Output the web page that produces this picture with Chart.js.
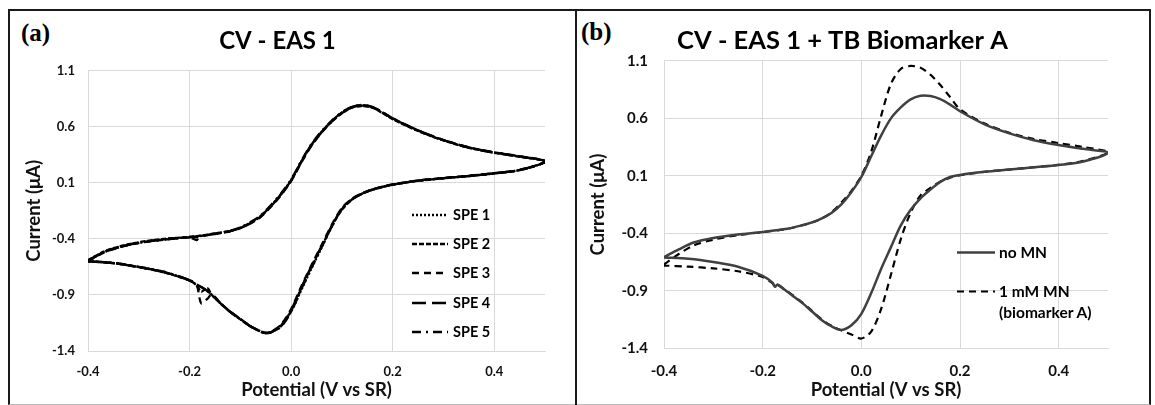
<!DOCTYPE html>
<html>
<head>
<meta charset="utf-8">
<script src="https://cdn.jsdelivr.net/npm/chart.js@4"></script>
<style>
  html, body { margin:0; padding:0; background:#fff; }
  body { width:1155px; height:405px; position:relative; overflow:hidden; font-family:Lato, sans-serif; }
  .frame { position:absolute; left:8px; top:9px; width:1143px; height:396px; border:2px solid #1a1a1a; border-bottom:1px solid #bbb; box-sizing:border-box; }
  .divider { position:absolute; left:575px; top:9px; width:2px; height:396px; background:#1a1a1a; }
  canvas { position:absolute; }
  .plabel { position:absolute; font-family:"Liberation Serif", serif; font-weight:bold; font-size:25px; color:#000; line-height:25px; }
  .legend { position:absolute; font-family:Lato, sans-serif; font-weight:bold; color:#000; }
  .legend .row { position:absolute; display:flex; align-items:center; white-space:nowrap; }
  .legend svg { display:block; }
</style>
</head>
<body>
<div class="frame"></div>
<div class="divider"></div>
<div class="plabel" style="left:21px; top:20px;">(a)</div>
<div class="plabel" style="left:581px; top:19px;">(b)</div>
<canvas id="chartA" width="565" height="392" style="left:10px; top:11px; width:565px; height:392px;"></canvas>
<canvas id="chartB" width="572" height="392" style="left:577px; top:11px; width:572px; height:392px;"></canvas>
<div id="legendA" class="legend"></div>
<div id="legendB" class="legend"></div>
<script>
// ---------------- Data: panel (a) ----------------
const titleA = 'CV - EAS 1';
const titleB = 'CV - EAS 1 + TB Biomarker A';
const xAxisTitle = 'Potential (V vs SR)';
const yAxisTitle = 'Current (\u03bcA)';
const xTickValues = [-0.4, -0.2, 0.0, 0.2, 0.4];
const yTickValues = [1.1, 0.6, 0.1, -0.4, -0.9, -1.4];

// potential scan (forward -0.4 -> 0.5, then reverse 0.5 -> -0.4)
const scanA = [
  -0.4, -0.37, -0.34, -0.3, -0.25, -0.2, -0.186, -0.18, -0.15, -0.12, -0.1, -0.08, -0.06, -0.04, -0.02, 0,
  0.02, 0.04, 0.06, 0.08, 0.1, 0.12, 0.14, 0.16, 0.18, 0.2, 0.25, 0.3, 0.35, 0.4, 0.45, 0.5,
  0.45, 0.4, 0.35, 0.3, 0.25, 0.2, 0.18, 0.16, 0.14, 0.12, 0.1, 0.08, 0.06, 0.04, 0.02, 0,
  -0.02, -0.04, -0.05, -0.06, -0.08, -0.1, -0.12, -0.14, -0.156, -0.165, -0.177, -0.186, -0.2, -0.25, -0.3, -0.35, -0.4
];
const labelsA = ['SPE 1', 'SPE 2', 'SPE 3', 'SPE 4', 'SPE 5'];
const spe1 = [
  -0.595, -0.52, -0.475, -0.435, -0.405, -0.385, -0.38, -0.375, -0.355, -0.33, -0.3, -0.255, -0.195, -0.105, 0.0, 0.125,
  0.29, 0.44, 0.555, 0.65, 0.725, 0.775, 0.79, 0.772, 0.725, 0.672, 0.565, 0.48, 0.415, 0.37, 0.335, 0.29,
  0.215, 0.185, 0.162, 0.142, 0.12, 0.085, 0.065, 0.04, 0.005, -0.045, -0.13, -0.29, -0.48, -0.665, -0.855, -1.05,
  -1.17, -1.23, -1.238, -1.225, -1.18, -1.115, -1.05, -0.97, -0.9, -0.865, -0.83, -0.81, -0.77, -0.695, -0.65, -0.615, -0.6
];
const spe2 = [
  -0.59, -0.515, -0.47, -0.43, -0.4, -0.382, -0.376, -0.372, -0.352, -0.328, -0.302, -0.26, -0.2, -0.11, -0.005, 0.12,
  0.285, 0.435, 0.55, 0.645, 0.72, 0.77, 0.785, 0.77, 0.722, 0.668, 0.562, 0.478, 0.412, 0.368, 0.332, 0.29,
  0.213, 0.183, 0.16, 0.14, 0.118, 0.083, 0.063, 0.038, 0.003, -0.05, -0.14, -0.29, -0.47, -0.65, -0.84, -1.04,
  -1.18, -1.235, -1.24, -1.228, -1.182, -1.118, -1.052, -0.972, -0.9, -0.84, -0.87, -0.815, -0.77, -0.7, -0.652, -0.617, -0.6
];
const spe3 = [
  -0.6, -0.525, -0.478, -0.437, -0.407, -0.387, -0.41, -0.378, -0.357, -0.332, -0.305, -0.262, -0.205, -0.115, -0.01, 0.115,
  0.28, 0.43, 0.548, 0.645, 0.722, 0.772, 0.788, 0.775, 0.728, 0.675, 0.568, 0.482, 0.417, 0.372, 0.337, 0.292,
  0.216, 0.186, 0.163, 0.143, 0.121, 0.086, 0.066, 0.041, 0.006, -0.042, -0.125, -0.275, -0.455, -0.635, -0.825, -1.025,
  -1.165, -1.228, -1.236, -1.222, -1.178, -1.112, -1.048, -0.968, -0.895, -0.935, -0.975, -0.815, -0.772, -0.698, -0.652, -0.616, -0.6
];
const spe4 = [
  -0.597, -0.522, -0.476, -0.436, -0.406, -0.386, -0.381, -0.376, -0.356, -0.331, -0.302, -0.258, -0.198, -0.108, -0.003, 0.122,
  0.288, 0.438, 0.553, 0.65, 0.728, 0.778, 0.795, 0.778, 0.73, 0.676, 0.568, 0.482, 0.416, 0.371, 0.336, 0.29,
  0.214, 0.184, 0.161, 0.141, 0.119, 0.084, 0.064, 0.039, 0.004, -0.047, -0.135, -0.285, -0.465, -0.645, -0.835, -1.035,
  -1.175, -1.232, -1.24, -1.226, -1.18, -1.116, -1.05, -0.97, -0.9, -0.865, -0.83, -0.81, -0.77, -0.697, -0.651, -0.616, -0.6
];
const spe5 = [
  -0.593, -0.518, -0.472, -0.433, -0.403, -0.383, -0.378, -0.373, -0.353, -0.328, -0.298, -0.25, -0.19, -0.1, 0.005, 0.13,
  0.295, 0.445, 0.56, 0.655, 0.73, 0.778, 0.792, 0.775, 0.727, 0.673, 0.566, 0.48, 0.414, 0.369, 0.334, 0.29,
  0.214, 0.184, 0.161, 0.141, 0.119, 0.084, 0.064, 0.039, 0.004, -0.047, -0.135, -0.29, -0.475, -0.66, -0.85, -1.05,
  -1.185, -1.235, -1.24, -1.225, -1.18, -1.115, -1.05, -0.97, -0.9, -0.865, -0.83, -0.805, -0.767, -0.693, -0.649, -0.614, -0.6
];

// ---------------- Data: panel (b) ----------------
const scanB = [
  -0.4, -0.37, -0.34, -0.3, -0.25, -0.2, -0.15, -0.12, -0.1, -0.08, -0.06, -0.04, -0.02, 0,
  0.02, 0.04, 0.06, 0.08, 0.1, 0.12, 0.14, 0.16, 0.18, 0.2, 0.25, 0.3, 0.35, 0.4, 0.45, 0.5,
  0.45, 0.4, 0.35, 0.3, 0.25, 0.2, 0.18, 0.16, 0.14, 0.12, 0.1, 0.08, 0.06, 0.04, 0.02, 0,
  -0.02, -0.04, -0.06, -0.08, -0.1, -0.12, -0.14, -0.16, -0.17, -0.175, -0.18, -0.2, -0.25, -0.3, -0.35, -0.4
];
const labelsB = ['no MN', '1 mM MN\n(biomarker A)'];
const noMN = [
  -0.607, -0.54, -0.48, -0.44, -0.41, -0.388, -0.36, -0.33, -0.305, -0.27, -0.22, -0.145, -0.04, 0.09,
  0.27, 0.45, 0.6, 0.695, 0.765, 0.797, 0.795, 0.768, 0.72, 0.662, 0.548, 0.47, 0.41, 0.368, 0.335, 0.3,
  0.225, 0.195, 0.175, 0.155, 0.135, 0.108, 0.09, 0.048, -0.02, -0.095, -0.195, -0.33, -0.52, -0.71, -0.92, -1.1,
  -1.2, -1.24, -1.21, -1.155, -1.08, -1.005, -0.94, -0.875, -0.845, -0.865, -0.83, -0.77, -0.69, -0.65, -0.622, -0.61
];
const withMN = [
  -0.67, -0.58, -0.505, -0.455, -0.415, -0.39, -0.36, -0.33, -0.305, -0.27, -0.215, -0.13, -0.03, 0.1,
  0.31, 0.62, 0.9, 1.03, 1.056, 1.04, 0.98, 0.89, 0.785, 0.68, 0.555, 0.475, 0.42, 0.385, 0.35, 0.305,
  0.23, 0.195, 0.175, 0.155, 0.135, 0.105, 0.085, 0.05, -0.005, -0.07, -0.22, -0.45, -0.76, -1.06, -1.255, -1.315,
  -1.28, -1.245, -1.205, -1.15, -1.075, -1.0, -0.935, -0.875, -0.85, -0.86, -0.835, -0.78, -0.73, -0.705, -0.69, -0.68
];

// ---------------- helpers ----------------
const toPoints = (xs, ys) => xs.map((x, i) => ({ x: x, y: ys[i] }));
const FONT = 'Lato, "Open Sans", sans-serif';

function makeOptions(cfg) {
  return {
    responsive: false,
    animation: false,
    events: [],
    layout: { autoPadding: false, padding: { left: 0, right: cfg.padRight, top: 0, bottom: 0 } },
    plugins: {
      legend: { display: false },
      tooltip: { enabled: false },
      title: {
        display: true, text: cfg.title, color: '#000',
        font: { family: FONT, size: cfg.titleSize, weight: 'bold', lineHeight: 1.2 },
        padding: { top: cfg.titleTop, bottom: cfg.titleBottom }
      }
    },
    scales: {
      x: {
        type: 'linear', min: -0.4, max: 0.5,
        afterBuildTicks: s => { s.ticks = xTickValues.map(v => ({ value: v })); },
        afterFit: s => { s.height = cfg.xHeight; },
        grid: { color: '#d9d9d9', lineWidth: 1, drawTicks: false },
        border: { color: '#d9d9d9' },
        ticks: {
          autoSkip: false, maxRotation: 0, padding: cfg.xTickPad, color: '#111',
          font: { family: FONT, size: cfg.tickSize, weight: 'bold' },
          callback: v => Number(v).toFixed(1)
        },
        title: {
          display: true, text: xAxisTitle, color: '#111',
          font: { family: FONT, size: cfg.axisTitleSize, weight: 'bold' },
          padding: { top: 0, bottom: cfg.xTitlePad }
        }
      },
      y: {
        type: 'linear', min: -1.4, max: 1.1,
        afterBuildTicks: s => { s.ticks = yTickValues.map(v => ({ value: v })); },
        afterFit: s => { s.width = cfg.yWidth; },
        grid: { color: '#d9d9d9', lineWidth: 1, drawTicks: false },
        border: { color: '#d9d9d9' },
        ticks: {
          autoSkip: false, padding: cfg.yTickPad, color: '#111',
          font: { family: FONT, size: cfg.tickSize, weight: 'bold' },
          callback: v => Number(v).toFixed(1)
        },
        title: {
          display: true, text: yAxisTitle, color: '#111',
          font: { family: FONT, size: cfg.axisTitleSize, weight: 'bold' },
          padding: { top: cfg.yTitlePad, bottom: 0 }
        }
      }
    }
  };
}

const dashesA = [[2, 2], [5, 2], [7, 5], [14, 6], [9, 5, 2, 5]];
const seriesA = [spe1, spe2, spe3, spe4, spe5];

const chartA = new Chart(document.getElementById('chartA'), {
  type: 'scatter',
  data: {
    datasets: seriesA.map((ys, i) => ({
      label: labelsA[i],
      data: toPoints(scanA, ys),
      showLine: true, pointRadius: 0, borderWidth: 2.3,
      borderColor: '#000', borderDash: dashesA[i], tension: 0.3, fill: false
    }))
  },
  options: makeOptions({
    title: titleA, titleSize: 24, padRight: 30, titleTop: 15.6, titleBottom: 15.3,
    xHeight: 52, xTickPad: 13, xTitlePad: 2, yWidth: 78, yTickPad: 13, yTitlePad: 13,
    tickSize: 13, axisTitleSize: 18.5
  })
});

const chartB = new Chart(document.getElementById('chartB'), {
  type: 'scatter',
  data: {
    datasets: [
      { label: labelsB[0], data: toPoints(scanB, noMN), showLine: true, pointRadius: 0, borderWidth: 2.5,
        borderColor: '#404040', borderDash: [], tension: 0.3, fill: false },
      { label: labelsB[1], data: toPoints(scanB, withMN), showLine: true, pointRadius: 0, borderWidth: 2.2,
        borderColor: '#000', borderDash: [7, 5], tension: 0.3, fill: false }
    ]
  },
  options: makeOptions({
    title: titleB, titleSize: 25.5, padRight: 41, titleTop: 14.7, titleBottom: 4.6,
    xHeight: 54.7, xTickPad: 14, xTitlePad: 2, yWidth: 87, yTickPad: 16, yTitlePad: 9.5,
    tickSize: 15, axisTitleSize: 18.5
  })
});

// ---------------- HTML legends built from the datasets ----------------
function buildLegend(chart, el, cfg) {
  el.innerHTML = '';
  chart.data.datasets.forEach((ds, i) => {
    const row = document.createElement('div');
    row.className = 'row';
    row.style.left = cfg.x + 'px';
    row.style.top = (cfg.rows[i] - cfg.lineH / 2) + 'px';
    row.style.fontSize = cfg.size + 'px';
    row.style.lineHeight = cfg.lineH + 'px';
    row.style.alignItems = 'flex-start';
    const svgNS = 'http://www.w3.org/2000/svg';
    const svg = document.createElementNS(svgNS, 'svg');
    svg.setAttribute('width', cfg.sample);
    svg.setAttribute('height', cfg.lineH);
    const ln = document.createElementNS(svgNS, 'line');
    ln.setAttribute('x1', 0); ln.setAttribute('x2', cfg.sample);
    ln.setAttribute('y1', cfg.lineH / 2); ln.setAttribute('y2', cfg.lineH / 2);
    ln.setAttribute('stroke', ds.borderColor);
    ln.setAttribute('stroke-width', ds.borderWidth);
    if (ds.borderDash && ds.borderDash.length) ln.setAttribute('stroke-dasharray', ds.borderDash.join(' '));
    svg.appendChild(ln);
    const txt = document.createElement('span');
    txt.style.whiteSpace = 'pre';
    txt.style.marginLeft = cfg.gap + 'px';
    txt.textContent = ds.label;
    row.appendChild(svg);
    row.appendChild(txt);
    el.appendChild(row);
  });
}
buildLegend(chartA, document.getElementById('legendA'),
  { x: 412, rows: [215, 244, 273, 303, 332], sample: 36, gap: 5, size: 14.5, lineH: 18 });
buildLegend(chartB, document.getElementById('legendB'),
  { x: 957, rows: [252, 291], sample: 38, gap: 4, size: 15.5, lineH: 21 });
</script>
</body>
</html>
